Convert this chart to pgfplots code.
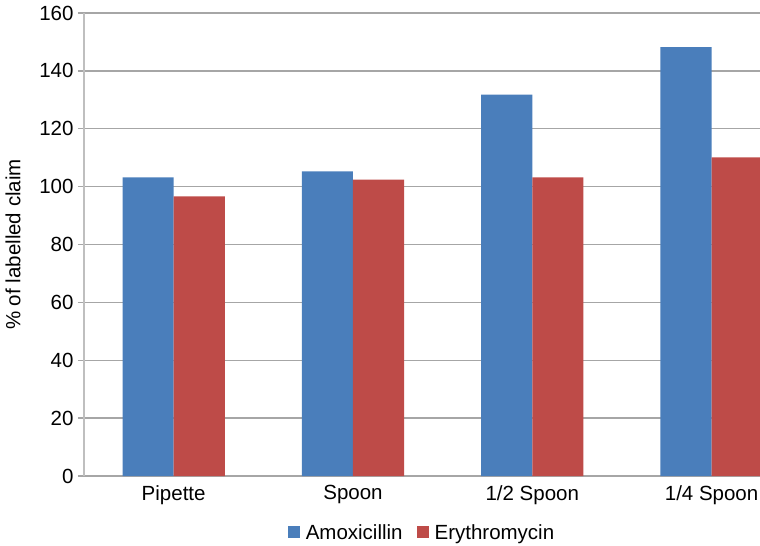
\documentclass[border=0pt]{standalone}
\usepackage{fontspec}
\setmainfont{Liberation Sans}
\usepackage{pgfplots}
\pgfplotsset{compat=1.18}
\definecolor{amox}{HTML}{4A7EBB}
\definecolor{eryth}{HTML}{BE4B48}
\definecolor{gridc}{HTML}{A6A6A6}
\definecolor{axc}{HTML}{BFBFBF}
\newcommand{\chartfont}{\fontsize{20.5bp}{24bp}\selectfont}
\begin{document}
\begin{tikzpicture}
\begin{axis}[
  name=ax,
  scale only axis,
  width=676bp, height=463bp,
  tick label style={font=\chartfont},
  label style={font=\chartfont},
  /pgf/number format/assume math mode=true,
  ybar=0pt, bar width=0.285,
  ymin=0, ymax=160, ytick={0,20,...,160},
  xmin=-0.5, xmax=3.27,
  xtick={0,1,2,3},
  xticklabels={Pipette, Spoon, 1/2 Spoon, 1/4 Spoon},
  ymajorgrids, grid style={draw=gridc, line width=1.3bp},
  axis x line*=bottom, axis y line*=left,
  x axis line style={draw=gridc, line width=1.3bp, -},
  y axis line style={draw=axc, line width=1.5bp, -},
  tick align=outside,
  ytick style={draw=gridc, line width=1.3bp},
  major tick length=6bp,
  xtick style={draw=none},
  yticklabel style={xshift=-1bp},
  ylabel={\% of labelled claim},
  ylabel style={at={(axis description cs:0,0.5)}, rotate=0, anchor=south, yshift=60bp},
  legend style={draw=none, at={(0.5,-0.095)}, anchor=north, legend columns=2,
    /tikz/every even column/.append style={column sep=12bp}, font=\chartfont},
  legend image code/.code={\fill[#1] (0bp,-6bp) rectangle (12bp,6bp); \path (16bp,0bp);},
  clip=true,
]
\addplot[fill=amox, draw=none] coordinates {(0,103.2) (1,105.3) (2,131.8) (3,148.2)};
\addplot[fill=eryth, draw=none] coordinates {(0,96.6) (1,102.4) (2,103.2) (3,110.1)};
\legend{Amoxicillin, Erythromycin}
\end{axis}
\pgfresetboundingbox
\path[use as bounding box] ([xshift=-84bp,yshift=-70bp]ax.south west) rectangle ([yshift=13bp]ax.north east);
\end{tikzpicture}
\end{document}
